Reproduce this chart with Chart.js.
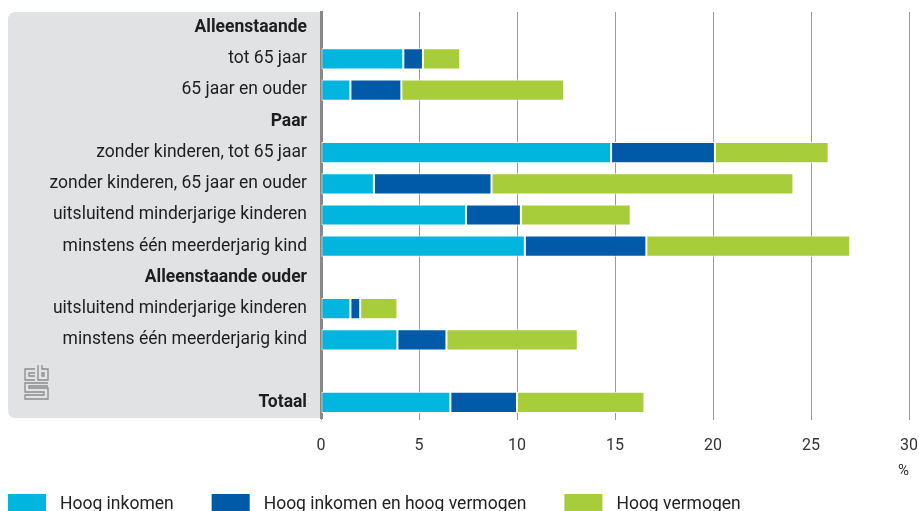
<!DOCTYPE html>
<html lang="nl">
<head>
<meta charset="utf-8">
<script src="https://cdn.jsdelivr.net/npm/chart.js@4/dist/chart.umd.min.js"></script>
<style>
  html, body { margin: 0; padding: 0; background: #fff; }
  #wrap { width: 919px; height: 511px; position: relative; }
</style>
</head>
<body>
<div id="wrap"><canvas id="vermogenChart"></canvas></div>
<script>
// Huishoudtypen; kopregels worden vet getoond en hebben geen balk
const categories = [
  'Alleenstaande',
  'tot 65 jaar',
  '65 jaar en ouder',
  'Paar',
  'zonder kinderen, tot 65 jaar',
  'zonder kinderen, 65 jaar en ouder',
  'uitsluitend minderjarige kinderen',
  'minstens één meerderjarig kind',
  'Alleenstaande ouder',
  'uitsluitend minderjarige kinderen',
  'minstens één meerderjarig kind',
  '',
  'Totaal'
];
const boldRows = [true, false, false, true, false, false, false, false, true, false, false, false, true];

// Aandeel huishoudens (%)
const hoogInkomen       = [null, 4.2, 1.5, null, 14.8, 2.7, 7.4, 10.4, null, 1.5, 3.9, null, 6.6];
const hoogInkomenEnVerm = [null, 1.0, 2.6, null,  5.3, 6.0, 2.8,  6.2, null, 0.5, 2.5, null, 3.4];
const hoogVermogen      = [null, 1.9, 8.3, null,  5.8, 15.4, 5.6, 10.4, null, 1.9, 6.7, null, 6.5];

const seriesLabels = ['Hoog inkomen', 'Hoog inkomen en hoog vermogen', 'Hoog vermogen'];
const seriesColors = ['#00b6de', '#005aa8', '#a8cd3a'];
const xTicks = [0, 5, 10, 15, 20, 25, 30];

const FONT = 'Roboto, "Noto Sans", sans-serif';

// grijs paneel achter de categorielabels plus het cbs-beeldmerk
const labelPanel = {
  id: 'labelPanel',
  beforeDraw(chart) {
    const { ctx, chartArea } = chart;
    const x0 = 8, x1 = chartArea.left, y0 = chartArea.top, y1 = chartArea.bottom;
    const r = 8;
    ctx.save();
    ctx.fillStyle = '#e1e2e4';
    ctx.beginPath();
    ctx.moveTo(x1, y0);
    ctx.lineTo(x0 + r, y0);
    ctx.quadraticCurveTo(x0, y0, x0, y0 + r);
    ctx.lineTo(x0, y1 - r);
    ctx.quadraticCurveTo(x0, y1, x0 + r, y1);
    ctx.lineTo(x1, y1);
    ctx.closePath();
    ctx.fill();

    // beeldmerk
    ctx.strokeStyle = '#8c8c8c';
    ctx.lineWidth = 1.3;
    const lx = 24, ly = 365;
    ctx.beginPath();
    // c
    ctx.moveTo(lx + 11, ly + 4); ctx.lineTo(lx + 1, ly + 4); ctx.lineTo(lx + 1, ly + 15); ctx.lineTo(lx + 11, ly + 15);
    ctx.moveTo(lx + 11, ly + 8); ctx.lineTo(lx + 5, ly + 8); ctx.lineTo(lx + 5, ly + 11); ctx.lineTo(lx + 11, ly + 11);
    // b
    ctx.moveTo(lx + 14, ly); ctx.lineTo(lx + 14, ly + 15); ctx.lineTo(lx + 24, ly + 15); ctx.lineTo(lx + 24, ly + 4); ctx.lineTo(lx + 18, ly + 4); ctx.lineTo(lx + 18, ly);
    ctx.moveTo(lx + 18, ly + 8); ctx.lineTo(lx + 20, ly + 8); ctx.lineTo(lx + 20, ly + 11); ctx.lineTo(lx + 18, ly + 11); ctx.closePath();
    // s
    ctx.moveTo(lx + 24, ly + 18); ctx.lineTo(lx + 1, ly + 18); ctx.lineTo(lx + 1, ly + 27); ctx.lineTo(lx + 20, ly + 27); ctx.lineTo(lx + 20, ly + 30); ctx.lineTo(lx + 1, ly + 30); ctx.lineTo(lx + 1, ly + 34); ctx.lineTo(lx + 24, ly + 34); ctx.lineTo(lx + 24, ly + 23); ctx.lineTo(lx + 5, ly + 23); ctx.lineTo(lx + 5, ly + 21); ctx.lineTo(lx + 24, ly + 21);
    ctx.stroke();
    ctx.restore();
  }
};

// legenda onderaan, blokjes met de reekskleuren
const bottomLegend = {
  id: 'bottomLegend',
  afterDraw(chart) {
    const { ctx } = chart;
    ctx.save();
    ctx.font = '17.5px ' + FONT;
    ctx.textBaseline = 'alphabetic';
    let x = 8;
    chart.data.datasets.forEach(ds => {
      ctx.fillStyle = ds.backgroundColor;
      ctx.fillRect(x, 494, 38, 20);
      ctx.fillStyle = '#222';
      ctx.fillText(ds.label, x + 52, 509);
      x += 52 + ctx.measureText(ds.label).width + 38;
    });
    ctx.restore();
  }
};

const datasets = [hoogInkomen, hoogInkomenEnVerm, hoogVermogen].map((data, i) => ({
  label: seriesLabels[i],
  data: data,
  backgroundColor: seriesColors[i],
  borderColor: '#ffffff',
  borderWidth: 1,
  borderSkipped: false
}));

new Chart(document.getElementById('vermogenChart'), {
  type: 'bar',
  data: { labels: categories, datasets: datasets },
  plugins: [labelPanel, bottomLegend],
  options: {
    indexAxis: 'y',
    responsive: true,
    maintainAspectRatio: false,
    animation: false,
    categoryPercentage: 1,
    barPercentage: 0.68,
    layout: { padding: { top: 12, right: 0, left: 0, bottom: 31 } },
    plugins: {
      legend: { display: false },
      tooltip: { enabled: false }
    },
    scales: {
      x: {
        stacked: true,
        min: 0,
        max: 30,
        afterBuildTicks: scale => { scale.ticks = xTicks.map(v => ({ value: v })); },
        afterFit: scale => {
          scale.height = 62;
          scale.paddingLeft = 0;
          scale.paddingRight = 10;
        },
        border: { display: false },
        grid: { color: '#9a9a9a', lineWidth: 1, tickLength: 2 },
        ticks: { color: '#333', padding: 16, font: { family: FONT, size: 16 } },
        title: {
          display: true,
          text: '%',
          align: 'end',
          color: '#333',
          padding: { top: 0, bottom: 0 },
          font: { family: FONT, size: 15 }
        }
      },
      y: {
        stacked: true,
        afterFit: scale => {
          scale.width = 321;
          scale.paddingTop = 0;
          scale.paddingBottom = 0;
        },
        border: { display: true, color: '#888', width: 3 },
        grid: { display: false },
        ticks: {
          color: '#1e1e1e',
          padding: 6,
          font: ctx => ({ family: FONT, size: 17.5, weight: boldRows[ctx.index] ? 'bold' : 'normal' })
        }
      }
    }
  }
});
</script>
</body>
</html>
